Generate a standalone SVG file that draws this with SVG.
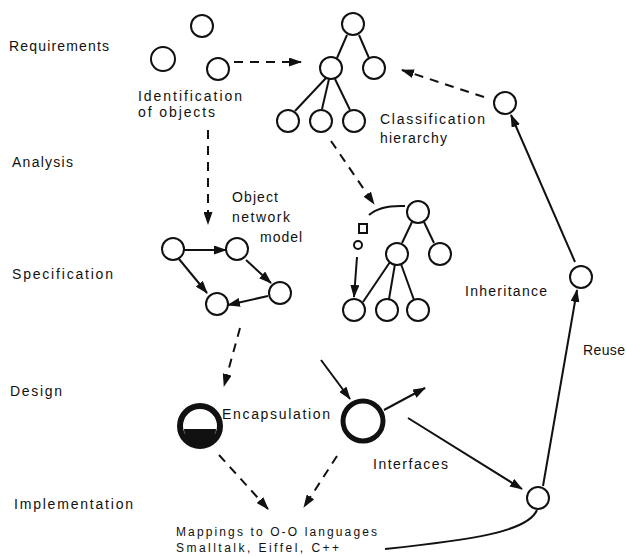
<svg xmlns="http://www.w3.org/2000/svg" width="626" height="557" viewBox="0 0 626 557">
<style>
text{font-family:"Liberation Sans",Arial,sans-serif;font-size:14px;fill:#111}
.sm{font-size:12px}
.n{fill:#fff;stroke:#111;stroke-width:2}
.c{fill:none;stroke:#111;stroke-width:2}
.d{fill:none;stroke:#111;stroke-width:2;stroke-dasharray:9 7}
.a{marker-end:url(#ah)}
</style>
<defs>
<marker id="ah" markerUnits="userSpaceOnUse" markerWidth="13" markerHeight="9" refX="12" refY="4.5" orient="auto">
<path d="M0,0 L13,4.5 L0,9 z" fill="#111"/>
</marker>
</defs>
<g id="phases">
<text x="9" y="51" textLength="100" lengthAdjust="spacing">Requirements</text>
<text x="12" y="167" textLength="61" lengthAdjust="spacing">Analysis</text>
<text x="12" y="279" textLength="101" lengthAdjust="spacing">Specification</text>
<text x="10" y="396" textLength="52" lengthAdjust="spacing">Design</text>
<text x="14" y="509" textLength="119" lengthAdjust="spacing">Implementation</text>
</g>
<g id="connectors">
<line class="d a" x1="234" y1="62" x2="301" y2="62"/>
<line class="d a" x1="208" y1="130" x2="208" y2="224"/>
<line class="c" x1="347" y1="35" x2="337" y2="58"/>
<line class="c" x1="359" y1="35" x2="369" y2="58"/>
<line class="c" x1="326" y1="78" x2="295" y2="111"/>
<line class="c" x1="329" y1="79" x2="322" y2="109"/>
<line class="c" x1="335" y1="79" x2="350" y2="110"/>
<line class="d a" x1="484" y1="97" x2="402" y2="70"/>
<line class="d a" x1="331" y1="141" x2="374" y2="204"/>
<path class="c" d="M369,215 Q380,205 405,206"/>
<line class="c a" x1="357" y1="257" x2="354" y2="297"/>
<line class="c" x1="412" y1="222" x2="402" y2="243"/>
<line class="c" x1="424" y1="222" x2="434" y2="243"/>
<line class="c" x1="390" y1="262" x2="363" y2="302"/>
<line class="c" x1="395" y1="264" x2="389" y2="299"/>
<line class="c" x1="401" y1="264" x2="414" y2="300"/>
<line class="c a" x1="184" y1="250" x2="226" y2="250"/>
<line class="c a" x1="246" y1="260" x2="271" y2="283"/>
<line class="c a" x1="268" y1="296" x2="228" y2="305"/>
<line class="c a" x1="179" y1="259" x2="207" y2="293"/>
<line class="d a" x1="240" y1="328" x2="224" y2="386"/>
<line class="c a" x1="321" y1="360" x2="350" y2="399"/>
<line class="c a" x1="384" y1="410" x2="425" y2="388"/>
<line class="c a" x1="408" y1="418" x2="522" y2="489"/>
<line class="d a" x1="219" y1="455" x2="268" y2="509"/>
<line class="d a" x1="337" y1="456" x2="304" y2="507"/>
<path class="c" d="M537,510 C528,532 470,540 385,549"/>
<line class="c a" x1="543" y1="486" x2="577" y2="290"/>
<line class="c a" x1="575" y1="262" x2="511" y2="115"/>
</g>
<g id="identification">
<circle class="n" cx="202" cy="26" r="11"/>
<circle class="n" cx="163" cy="59" r="12"/>
<circle class="n" cx="218" cy="69" r="11"/>
<text x="138" y="101" textLength="104" lengthAdjust="spacing">Identification</text>
<text x="138" y="117" textLength="77" lengthAdjust="spacing">of objects</text>
</g>
<g id="classification">
<circle class="n" cx="353" cy="24" r="11"/>
<circle class="n" cx="331" cy="68" r="11"/>
<circle class="n" cx="374" cy="68" r="11"/>
<circle class="n" cx="288" cy="121" r="11"/>
<circle class="n" cx="321" cy="121" r="11"/>
<circle class="n" cx="354" cy="121" r="11"/>
<text x="380" y="124" textLength="105" lengthAdjust="spacing">Classification</text>
<text x="380" y="143" textLength="67" lengthAdjust="spacing">hierarchy</text>
</g>
<g id="reuse-top">
<circle class="n" cx="505" cy="103" r="11"/>
</g>
<g id="inheritance">
<circle class="n" cx="418" cy="212" r="11"/>
<circle class="n" cx="397" cy="254" r="11"/>
<circle class="n" cx="440" cy="254" r="11"/>
<circle class="n" cx="354" cy="310" r="11"/>
<circle class="n" cx="387" cy="310" r="11"/>
<circle class="n" cx="418" cy="310" r="11"/>
<rect class="n" x="359" y="224" width="8" height="9"/>
<circle class="n" cx="358" cy="245" r="4"/>
<text x="465" y="296" textLength="82" lengthAdjust="spacing">Inheritance</text>
</g>
<g id="object-network">
<circle class="n" cx="173" cy="249" r="11"/>
<circle class="n" cx="237" cy="249" r="11"/>
<circle class="n" cx="280" cy="293" r="11"/>
<circle class="n" cx="217" cy="304" r="11"/>
<text x="232" y="202" textLength="46" lengthAdjust="spacing">Object</text>
<text x="232" y="222" textLength="58" lengthAdjust="spacing">network</text>
<text x="260" y="242" textLength="42" lengthAdjust="spacing">model</text>
</g>
<g id="reuse-mid">
<circle class="n" cx="581" cy="277" r="11"/>
<text x="583" y="355" textLength="42" lengthAdjust="spacing">Reuse</text>
</g>
<g id="encapsulation">
<circle cx="200" cy="426" r="20" fill="#fff" stroke="#111" stroke-width="6"/>
<path d="M184,429 A16,16 0 0 0 216,429 Z" fill="#111"/>
<text x="222" y="419" textLength="108" lengthAdjust="spacing">Encapsulation</text>
</g>
<g id="interfaces">
<circle cx="363" cy="421" r="20" fill="#fff" stroke="#111" stroke-width="5"/>
<text x="373" y="469" textLength="75" lengthAdjust="spacing">Interfaces</text>
</g>
<g id="reuse-bottom">
<circle class="n" cx="538" cy="498" r="11"/>
</g>
<g id="mappings">
<text class="sm" x="176" y="536" textLength="201" lengthAdjust="spacing">Mappings to O-O languages</text>
<text class="sm" x="176" y="552" textLength="163" lengthAdjust="spacing">Smalltalk, Eiffel, C++</text>
</g>
</svg>
